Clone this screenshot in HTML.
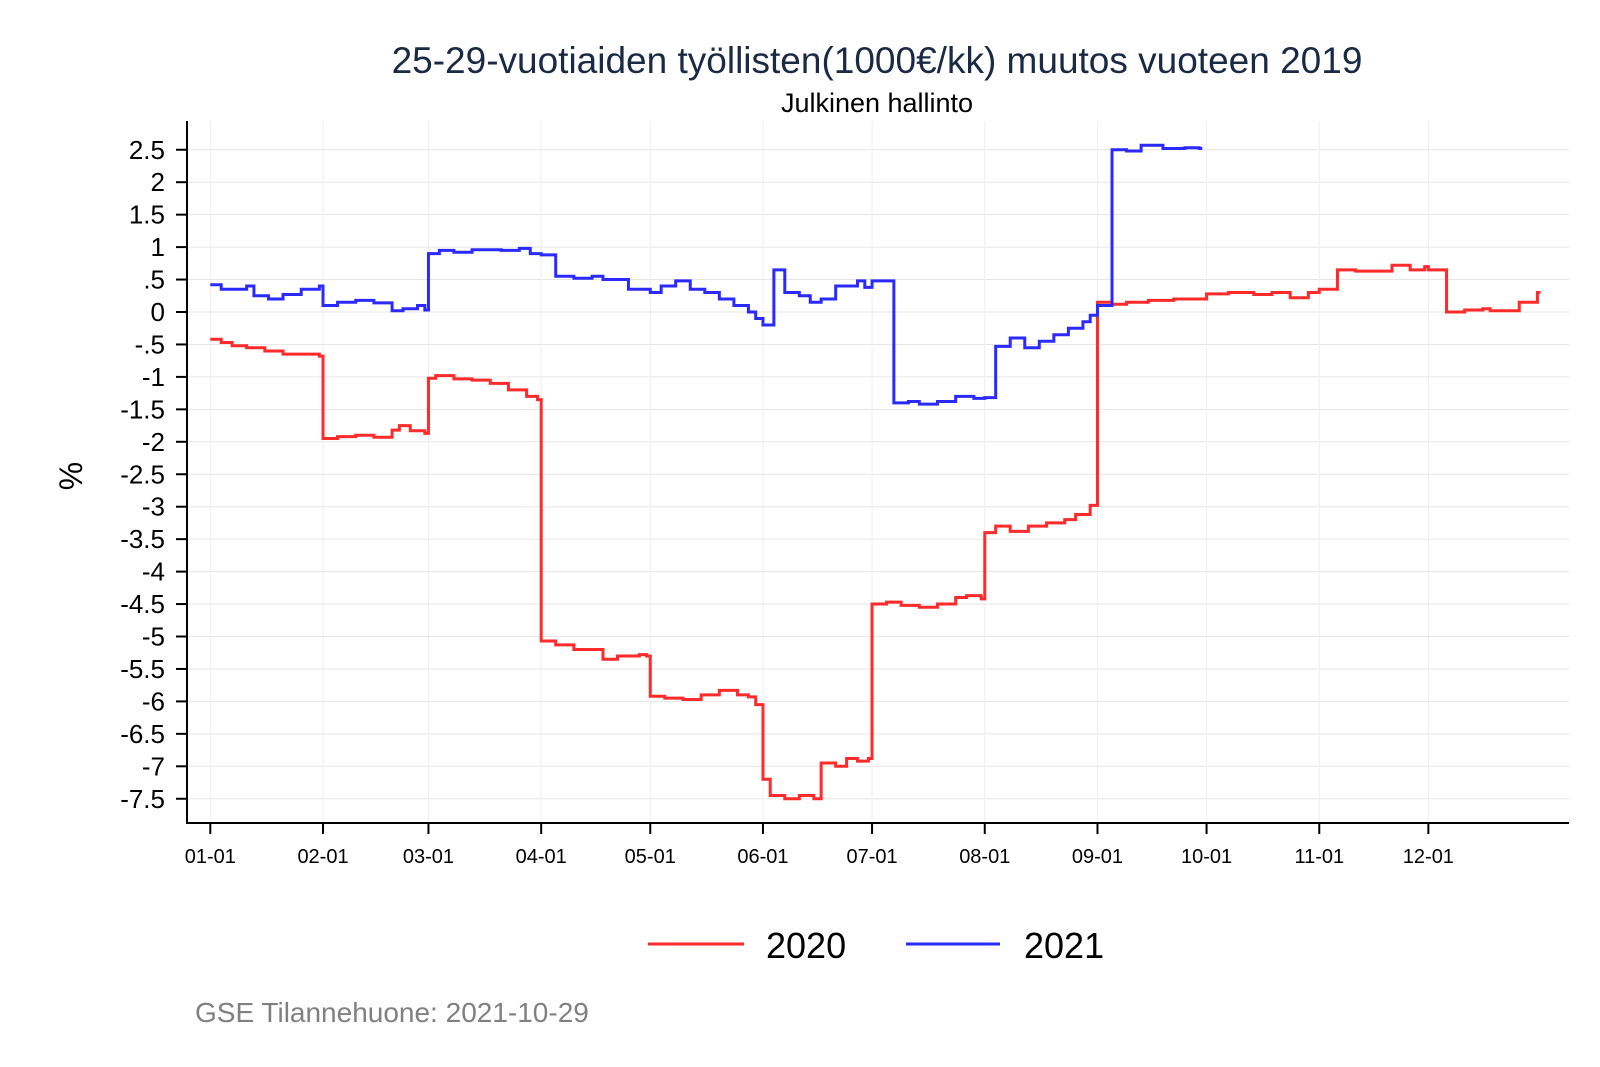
<!DOCTYPE html>
<html><head><meta charset="utf-8"><style>
body{margin:0;background:#fff}
svg{display:block;font-family:"Liberation Sans",Arial,sans-serif}
</style></head><body>
<svg id="chart" width="1600" height="1067" viewBox="0 0 1600 1067">
<text x="877" y="73" text-anchor="middle" font-size="37" fill="#1a2a44">25-29-vuotiaiden työllisten(1000€/kk) muutos vuoteen 2019</text>
<text x="877" y="112" text-anchor="middle" font-size="27" fill="#000">Julkinen hallinto</text>
<text transform="translate(82,476) rotate(-90)" text-anchor="middle" font-size="32">%</text>
<g id="grid"></g><g id="yaxis"></g><g id="xaxis"></g><g id="series"></g>
<g>
<line x1="648" y1="944" x2="744" y2="944" stroke="#ff2a2a" stroke-width="3"/>
<text x="766" y="958" font-size="36">2020</text>
<line x1="906" y1="944" x2="1000" y2="944" stroke="#2a2aff" stroke-width="3"/>
<text x="1024" y="958" font-size="36">2021</text>
</g>
<text x="195" y="1022" font-size="28" fill="#808080">GSE Tilannehuone: 2021-10-29</text>
</svg>
<script>
const yTicks=[2.5,2,1.5,1,0.5,0,-0.5,-1,-1.5,-2,-2.5,-3,-3.5,-4,-4.5,-5,-5.5,-6,-6.5,-7,-7.5];
const yTickLabels=["2.5","2","1.5","1",".5","0","-.5","-1","-1.5","-2","-2.5","-3","-3.5","-4","-4.5","-5","-5.5","-6","-6.5","-7","-7.5"];
const xTickDays=[0,31,60,91,121,152,182,213,244,274,305,335];
const xTickLabels=["01-01","02-01","03-01","04-01","05-01","06-01","07-01","08-01","09-01","10-01","11-01","12-01"];
const days2020=[0,3,6,10,15,20,25,30,31,35,40,45,50,52,55,59,60,62,67,72,77,82,87,90,91,95,100,105,108,112,118,120,121,125,130,135,140,145,148,150,152,154,158,162,166,168,172,175,178,181,182,186,190,195,200,205,208,212,213,216,220,225,230,235,238,242,244,248,252,258,265,272,274,280,287,292,297,302,305,310,315,320,325,330,334,335,340,345,350,352,360,362,365];
const vals2020=[-0.42,-0.47,-0.52,-0.55,-0.6,-0.65,-0.65,-0.68,-1.95,-1.92,-1.9,-1.93,-1.82,-1.75,-1.83,-1.87,-1.02,-0.98,-1.03,-1.05,-1.1,-1.2,-1.3,-1.35,-5.07,-5.13,-5.2,-5.2,-5.35,-5.3,-5.28,-5.3,-5.92,-5.95,-5.97,-5.9,-5.83,-5.9,-5.93,-6.05,-7.2,-7.45,-7.5,-7.45,-7.5,-6.95,-7.0,-6.88,-6.92,-6.88,-4.5,-4.47,-4.52,-4.55,-4.5,-4.4,-4.37,-4.42,-3.4,-3.3,-3.38,-3.3,-3.25,-3.2,-3.12,-2.98,0.15,0.12,0.15,0.18,0.2,0.2,0.28,0.3,0.27,0.3,0.22,0.3,0.35,0.65,0.63,0.63,0.72,0.65,0.7,0.65,0.0,0.03,0.05,0.02,0.15,0.15,0.3,0.28];
const days2021=[0,3,10,12,16,20,25,30,31,35,40,45,50,53,57,59,60,63,67,72,80,85,88,91,95,100,105,108,115,120,121,124,128,132,136,140,144,148,150,152,155,158,162,165,168,172,175,178,180,182,188,192,195,200,205,210,213,216,220,224,228,232,236,240,242,244,248,252,256,262,268,272];
const vals2021=[0.42,0.35,0.4,0.25,0.2,0.27,0.35,0.4,0.1,0.15,0.18,0.14,0.02,0.05,0.1,0.03,0.9,0.95,0.92,0.96,0.95,0.98,0.9,0.88,0.55,0.52,0.55,0.5,0.35,0.35,0.3,0.4,0.48,0.35,0.3,0.2,0.1,0.0,-0.1,-0.2,0.65,0.3,0.25,0.15,0.2,0.4,0.4,0.48,0.38,0.48,-1.4,-1.38,-1.42,-1.38,-1.3,-1.33,-1.32,-0.53,-0.4,-0.55,-0.45,-0.35,-0.25,-0.15,-0.05,0.1,2.5,2.48,2.57,2.52,2.53,2.52,2.55];
const NS="http://www.w3.org/2000/svg";
const L=187,R=1569,T=121,B=823;
function X(d){return 210.3+d*3.636;}
function Y(v){return 312-v*64.9;}
function mk(tag,attrs,parent){const e=document.createElementNS(NS,tag);for(const k in attrs)e.setAttribute(k,attrs[k]);parent.appendChild(e);return e;}
const grid=document.getElementById('grid'),ya=document.getElementById('yaxis'),xa=document.getElementById('xaxis'),se=document.getElementById('series');
yTicks.forEach((v,i)=>{
  const g=mk('line',{x1:L,x2:R,y1:Y(v),y2:Y(v),stroke:'#e6e6e6','stroke-width':1},grid);
  
  
  const t=mk('line',{x1:L-11,x2:L,y1:Y(v),y2:Y(v),stroke:'#000','stroke-width':2},ya);
  
  
  const tx=mk('text',{x:L-22,y:Y(v)+9,'text-anchor':'end','font-size':26},ya);
  tx.textContent=yTickLabels[i];
  
  
});
xTickDays.forEach((d,i)=>{
  const g=mk('line',{x1:X(d),x2:X(d),y1:T,y2:B,stroke:'#eeeeee','stroke-width':1},grid);
  
  
  const t=mk('line',{x1:X(d),x2:X(d),y1:B,y2:B+11,stroke:'#000','stroke-width':2},xa);
  
  
  const tx=mk('text',{x:X(d),y:B+40,'text-anchor':'middle','font-size':20},xa);
  tx.textContent=xTickLabels[i];
  
  
});
const yl=mk('line',{x1:L,x2:L,y1:T,y2:B+1,stroke:'#000','stroke-width':2},ya);


const xl=mk('line',{x1:L-1,x2:R,y1:B,y2:B,stroke:'#000','stroke-width':2},xa);


function stepPath(ds,vs){let p='M'+X(ds[0])+','+Y(vs[0]);for(let i=1;i<ds.length;i++){p+=' H'+X(ds[i])+' V'+Y(vs[i]);}p+=' H'+(X(ds[ds.length-1])+3);return p;}
const p1=mk('path',{d:stepPath(days2020,vals2020),fill:'none',stroke:'#ff2a2a','stroke-width':3},se);


const p2=mk('path',{d:stepPath(days2021,vals2021),fill:'none',stroke:'#2a2aff','stroke-width':3},se);


</script>
</body></html>
